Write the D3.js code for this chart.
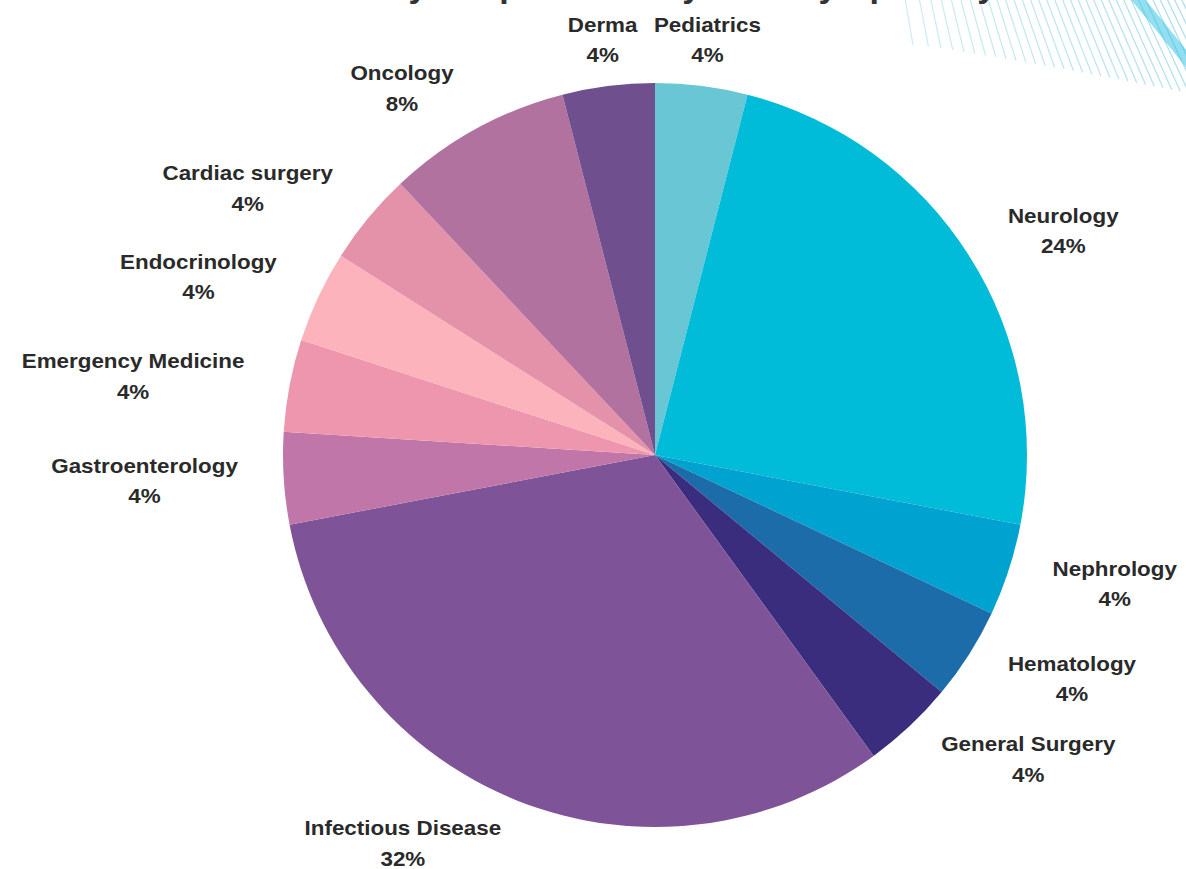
<!DOCTYPE html>
<html>
<head>
<meta charset="utf-8">
<script src="https://cdn.jsdelivr.net/npm/d3@7"></script>
<style>
  html, body { margin: 0; padding: 0; background: #ffffff; }
  svg { display: block; }
</style>
</head>
<body>
<svg id="chart" width="1186" height="869"></svg>
<script>
// ---- data ----
const categories = ["Pediatrics", "Neurology", "Nephrology", "Hematology", "General Surgery",
  "Infectious Disease", "Gastroenterology", "Emergency Medicine", "Endocrinology",
  "Cardiac surgery", "Oncology", "Derma"];
const values = [4, 24, 4, 4, 4, 32, 4, 4, 4, 4, 8, 4];
const colors = ["#69c6d4", "#00bcd9", "#00a2cf", "#1c6ca9", "#3a2d7d", "#7f5397",
  "#c076a8", "#ee96ae", "#fdb3bc", "#e491aa", "#b172a0", "#6f4f8e"];
const titleText = "Survey Respondents by Primary Specialty";

// ---- layout ----
const W = 1186, H = 869;
const cx = 655, cy = 455, R = 372, labelR = 418;
const svg = d3.select("#chart");

// decorative fan of thin lines, top right
const deco = svg.append("g");
const nLines = 36;
for (let i = 0; i < nLines; i++) {
  const t = i / (nLines - 1);
  const x0 = 905 + 290 * Math.pow(t, 0.85);
  const len = 45 + 60 * t;
  const dx = 8 + 45 * t;
  deco.append("line")
    .attr("x1", x0).attr("y1", -2)
    .attr("x2", x0 + dx).attr("y2", len)
    .attr("stroke", "#9fd9ea")
    .attr("stroke-width", 1.2)
    .attr("opacity", 0.5 + 0.4 * t);
}
deco.append("path")
  .attr("d", "M1135,-4 Q1162,28 1195,70")
  .attr("fill", "none")
  .attr("stroke", "#38c4e6")
  .attr("stroke-width", 11)
  .attr("opacity", 0.55);

// title (mostly outside the frame, only descenders visible)
svg.append("text")
  .attr("x", cx).attr("y", -3)
  .attr("text-anchor", "middle")
  .style("font-family", "Liberation Sans, Arial, sans-serif")
  .style("font-weight", "bold")
  .style("font-size", "34px")
  .attr("fill", "#333")
  .text(titleText);

// pie
const data = categories.map((c, i) => ({ name: c, value: values[i], color: colors[i] }));
const pie = d3.pie().sort(null).value(d => d.value).startAngle(0).endAngle(2 * Math.PI);
const arc = d3.arc().innerRadius(0).outerRadius(R);
const arcs = pie(data);

const g = svg.append("g").attr("transform", `translate(${cx},${cy})`);
g.selectAll("path.slice")
  .data(arcs)
  .join("path")
  .attr("class", "slice")
  .attr("d", arc)
  .attr("fill", d => d.data.color);

// labels
const total = d3.sum(values);
const sx = 1.12;
const lab = svg.append("g");
arcs.forEach(d => {
  const a = (d.startAngle + d.endAngle) / 2;
  const s = Math.sin(a), c = Math.cos(a);
  const px = cx + labelR * s, py = cy - labelR * c;
  const outer = lab.append("g");
  const inner = outer.append("g").attr("transform", `scale(${sx},1)`);
  const common = t => t
    .attr("text-anchor", "middle")
    .attr("dominant-baseline", "central")
    .style("font-family", "Liberation Sans, Arial, sans-serif")
    .style("font-weight", "bold")
    .style("font-size", "20px")
    .attr("fill", "#2a2a2a");
  const t1 = common(inner.append("text")).attr("x", 0).attr("y", -15.5).text(d.data.name);
  const pct = Math.round(d.data.value / total * 100) + "%";
  const t2 = common(inner.append("text")).attr("x", 0).attr("y", 15).text(pct);
  const w = Math.max(t1.node().getComputedTextLength(), t2.node().getComputedTextLength()) * sx;
  let ox = px;
  if (s > 0.3) ox = px + w / 2;
  else if (s < -0.3) ox = px - w / 2;
  outer.attr("transform", `translate(${ox},${py})`);
});
</script>
</body>
</html>
